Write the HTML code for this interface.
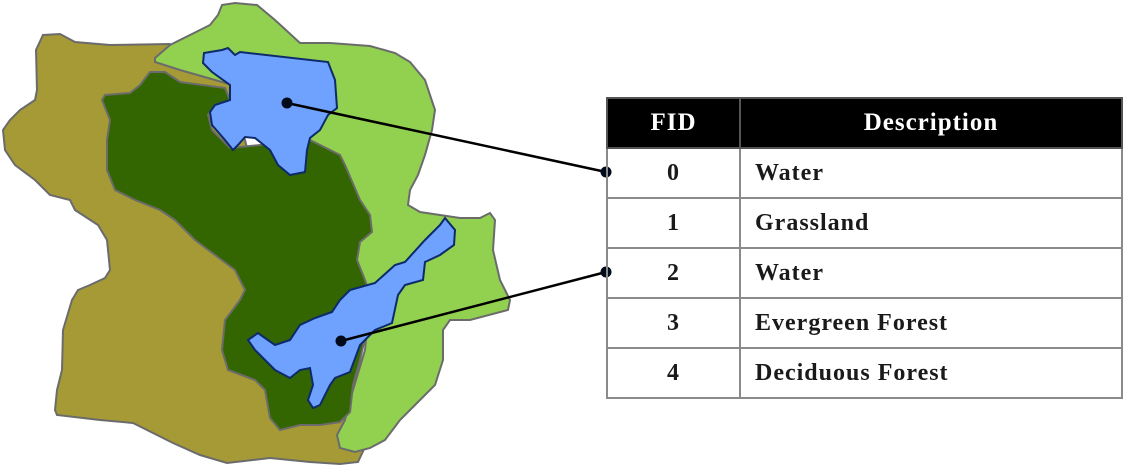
<!DOCTYPE html>
<html><head><meta charset="utf-8"><style>
body{margin:0;background:#fff;width:1127px;height:474px;overflow:hidden;position:relative;font-family:"Liberation Serif",serif}
svg{position:absolute;left:0;top:0}
table{position:absolute;left:606px;top:97px;border-collapse:collapse;width:517px}
td,th{border:2px solid #8a8a8a;height:48px;font-size:24px;font-weight:bold;color:#1a1a1a;letter-spacing:1px;padding:0;line-height:24px}
th{background:#000;color:#fff;border-color:#555;font-size:25px}
td:first-child,th:first-child{width:131px;text-align:center}
td:last-child{padding-left:14px}
</style></head><body>
<svg width="1127" height="474">
<polygon fill="#a59a35" stroke="#6b6b6b" stroke-width="2" points="43,35 60,34 75,42 110,45 170,44 200,60 230,80 260,200 300,300 345,420 365,447 358,462 340,464 310,462 270,458 227,463 200,455 173,443 133,423 100,420 57,415 55,410 57,390 62,370 63,330 72,300 78,290 90,285 105,278 110,270 107,240 98,225 75,210 70,200 50,195 35,180 15,165 5,150 3,130 10,120 20,110 35,100 37,90 36,50"/>
<polygon fill="#92d050" stroke="#6b6b6b" stroke-width="2" points="222,5 235,3 257,5 275,20 300,43 330,43 370,46 395,53 410,62 425,80 435,110 432,130 425,155 418,175 410,190 408,205 420,212 460,218 480,218 490,213 495,220 493,250 500,280 510,300 508,310 470,320 450,320 443,330 443,360 435,385 420,400 400,420 385,440 370,448 355,452 340,448 337,435 345,420 350,400 365,350 370,300 350,300 300,200 250,90 180,70 155,62 155,58 170,45 190,35 210,25 218,15"/>
<polygon fill="#336600" stroke="#6b6b6b" stroke-width="2" points="150,72 165,72 180,82 225,88 230,100 215,105 208,115 212,130 230,148 310,140 340,155 345,165 360,200 370,215 372,232 360,242 357,260 365,280 372,300 367,330 360,360 353,385 350,412 340,422 320,425 300,425 280,430 270,418 265,390 255,380 228,370 222,350 225,320 240,300 245,290 235,270 215,255 195,240 175,220 160,210 135,200 115,190 107,170 107,140 110,120 102,100 105,95 130,93 140,85"/>
<polygon fill="#6fa1ff" stroke="#0d2a6b" stroke-width="2" points="204,53 222,50 228,48 235,55 240,52 328,62 335,80 337,108 328,115 320,130 310,138 307,150 305,172 290,175 278,165 270,150 255,138 245,137 238,145 233,150 225,140 212,125 210,112 215,105 230,100 230,85 212,72 203,63"/>
<polygon fill="#6fa1ff" stroke="#0d2a6b" stroke-width="2" points="445,218 455,230 454,245 440,255 425,262 423,280 405,285 398,295 392,323 375,330 360,345 350,372 335,378 330,385 320,405 313,408 308,400 313,385 310,368 300,370 290,378 275,370 265,360 255,350 248,340 258,333 265,338 275,345 290,340 300,325 315,318 332,312 340,300 350,290 375,283 395,265 405,262 425,240 440,225"/>
<g><line x1="287" y1="103" x2="606" y2="172" stroke="#000" stroke-width="2.5"/><circle cx="287" cy="103" r="5.5" fill="#000a1a"/><circle cx="606" cy="172" r="5.5" fill="#000a1a"/></g>
<g><line x1="341" y1="341" x2="606" y2="272" stroke="#000" stroke-width="2.5"/><circle cx="341" cy="341" r="5.5" fill="#000a1a"/><circle cx="606" cy="272" r="5.5" fill="#000a1a"/></g>
</svg>
<table>
<tr><th>FID</th><th>Description</th></tr>
<tr><td>0</td><td>Water</td></tr>
<tr><td>1</td><td>Grassland</td></tr>
<tr><td>2</td><td>Water</td></tr>
<tr><td>3</td><td>Evergreen Forest</td></tr>
<tr><td>4</td><td>Deciduous Forest</td></tr>
</table>
</body></html>
